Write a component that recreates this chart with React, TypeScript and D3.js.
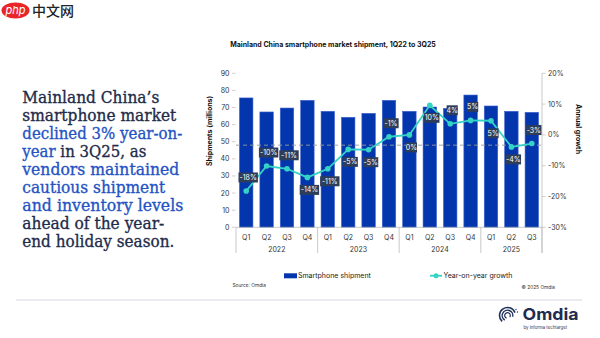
import React from "react";
import * as d3 from "d3";

const quarters = ["Q1","Q2","Q3","Q4","Q1","Q2","Q3","Q4","Q1","Q2","Q3","Q4","Q1","Q2","Q3"];
const years = ["2022","2023","2024","2025"];
const yearCounts = [4,4,4,3];
const shipments = [75.6,67.4,69.7,74.2,67.8,64.3,66.6,74.2,67.8,70.3,69.5,77.3,70.9,67.8,67.2];
const growth = [-18.2,-10.1,-11.0,-13.8,-11.0,-4.7,-4.8,-0.6,0.0,9.6,3.6,4.7,4.6,-3.9,-2.8];
const growthLabels = ["-18%","-10%","-11%","-14%","-11%","-5%","-5%","-1%","0%","10%","4%","5%","5%","-4%","-3%"];
const leftTicks = [0,10,20,30,40,50,60,70,80,90];
const rightTicks = [-30,-20,-10,0,10,20];
const refLineValue = 48;

const textLines: { t: string; blue: boolean }[][] = [
  [{ t: "Mainland China\u2019s", blue: false }],
  [{ t: "smartphone market", blue: false }],
  [{ t: "declined 3% year-on-", blue: true }],
  [{ t: "year", blue: true }, { t: " in 3Q25, as", blue: false }],
  [{ t: "vendors maintained", blue: true }],
  [{ t: "cautious shipment", blue: true }],
  [{ t: "and inventory levels", blue: true }],
  [{ t: "ahead of the year-", blue: false }],
  [{ t: "end holiday season.", blue: false }],
];
const lineWidths = [137,154,160,124,157,143,161,142,152];

// label placement: true = above point
const labelAbove = [true,true,true,false,false,false,false,true,false,false,true,true,false,false,true];

const BLUE = "#0336ad";
const TEAL = "#33d3c5";
const NAVY = "#1e2b4a";
const TBLUE = "#2453c4";
const SANS = "Inter, 'Liberation Sans', Arial, sans-serif";

export default function App() {
  const left = 236, right = 542, top = 73.3, bottom = 227.3;
  const x = d3.scaleBand<number>().domain(d3.range(quarters.length)).range([left, right]).paddingInner(0.34).paddingOuter(0.17);
  const yL = d3.scaleLinear().domain([0, 90]).range([bottom, top]);
  const yR = d3.scaleLinear().domain([-30, 20]).range([bottom, top]);
  const step = x.step();
  const cx = (i: number) => (x(i) as number) + x.bandwidth() / 2;
  const line = d3.line<number>().x((_, i) => cx(i)).y((d) => yR(d));

  const bounds: number[] = [left];
  let acc = 0;
  yearCounts.forEach((c) => { acc += c; bounds.push(left + step * acc); });
  bounds[bounds.length - 1] = right;

  return (
    <svg width={600} height={338} style={{ position: "absolute", left: 0, top: 0, background: "#fff" }}>
      {/* watermark logo */}
      <ellipse cx={15.5} cy={10.5} rx={14} ry={8} fill="#e8262a" />
      <text x={15.5} y={14} fontSize={11} fontStyle="italic" fill="#fff" textAnchor="middle" fontFamily={SANS}>php</text>
      <text x={32} y={15.5} fontSize={14} fill="#222" fontFamily="'Noto Sans CJK SC', sans-serif" fontWeight={500}>中文网</text>

      {/* left text */}
      {textLines.map((ln, i) => (
        <text key={i} x={22.3} y={103.3 + i * 17.9} fontSize={16.5} fontFamily="'DejaVu Serif', serif"
          textLength={lineWidths[i]} lengthAdjust="spacingAndGlyphs" strokeWidth={0.35}>
          {ln.map((s, j) => (
            <tspan key={j} fill={s.blue ? TBLUE : NAVY} stroke={s.blue ? TBLUE : NAVY}>{s.t}</tspan>
          ))}
        </text>
      ))}

      {/* title */}
      <text x={333} y={46.5} fontSize={7} fontWeight={700} textAnchor="middle" fill="#111" fontFamily={SANS}>
        Mainland China smartphone market shipment, 1Q22 to 3Q25
      </text>

      {/* left axis ticks */}
      {leftTicks.map((t) => (
        <g key={t}>
          <line x1={232} x2={235.5} y1={yL(t)} y2={yL(t)} stroke="#bbb" strokeWidth={0.7} />
          <text x={229.5} y={yL(t) + 2.5} fontSize={7} textAnchor="end" fill="#333" fontFamily={SANS}>{t}</text>
        </g>
      ))}
      <text transform={`translate(211.5,131) rotate(-90)`} fontSize={7} fontWeight={700} textAnchor="middle" fill="#111" fontFamily={SANS}>
        Shipments (millions)
      </text>

      {/* right axis */}
      <line x1={right} x2={right} y1={top} y2={253} stroke="#bbb" strokeWidth={0.8} />
      {rightTicks.map((t) => (
        <g key={t}>
          <line x1={right} x2={right + 3.5} y1={yR(t)} y2={yR(t)} stroke="#bbb" strokeWidth={0.7} />
          <text x={548} y={yR(t) + 2.5} fontSize={7} fill="#333" fontFamily={SANS}>{t}%</text>
        </g>
      ))}
      <text transform={`translate(576,129) rotate(90)`} fontSize={7} fontWeight={700} textAnchor="middle" fill="#111" fontFamily={SANS}>
        Annual growth
      </text>

      {/* bars */}
      {shipments.map((v, i) => (
        <rect key={i} x={x(i)} y={yL(v)} width={x.bandwidth()} height={bottom - yL(v)} fill={BLUE} stroke="#3f63cf" strokeWidth={0.6} />
      ))}

      {/* dashed reference */}
      <line x1={left} x2={right} y1={yL(refLineValue)} y2={yL(refLineValue)} stroke="#9a9a9a" strokeWidth={0.9} strokeDasharray="4,3" />

      {/* x axis */}
      <line x1={left} x2={right} y1={bottom} y2={bottom} stroke="#bbb" strokeWidth={0.8} />
      {bounds.map((b, i) => (
        <line key={i} x1={b} x2={b} y1={bottom} y2={253} stroke="#bbb" strokeWidth={0.8} />
      ))}
      {quarters.map((q, i) => (
        <text key={i} x={cx(i)} y={240} fontSize={7} textAnchor="middle" fill="#333" fontFamily={SANS}>{q}</text>
      ))}
      {years.map((yv, i) => (
        <text key={yv} x={(bounds[i] + bounds[i + 1]) / 2} y={251.5} fontSize={7} textAnchor="middle" fill="#333" fontFamily={SANS}>{yv}</text>
      ))}

      {/* growth line */}
      <path d={line(growth) || ""} fill="none" stroke={TEAL} strokeWidth={1.8} />
      {growth.map((g, i) => (
        <circle key={i} cx={cx(i)} cy={yR(g)} r={2.8} fill={TEAL} />
      ))}

      {/* data labels */}
      {growth.map((g, i) => {
        const lx = cx(i) + 2;
        const ly = yR(g) + (labelAbove[i] ? -13.5 : 12.5);
        const w = growthLabels[i].length * 4.1 + 3;
        return (
          <g key={i}>
            <rect x={lx - w / 2} y={ly - 5} width={w} height={10} fill="#2e3d5a" />
            <text x={lx} y={ly + 2.5} fontSize={7} textAnchor="middle" fill="#fff" fontFamily={SANS}>{growthLabels[i]}</text>
          </g>
        );
      })}

      {/* legend */}
      <rect x={284} y={273.3} width={13} height={5} fill={BLUE} />
      <text x={298} y={278.3} fontSize={7} fill="#222" fontFamily={SANS}>Smartphone shipment</text>
      <line x1={430} x2={442} y1={275.7} y2={275.7} stroke={TEAL} strokeWidth={1.8} />
      <circle cx={436} cy={275.7} r={2.5} fill={TEAL} />
      <text x={443.5} y={278.3} fontSize={7} fill="#222" fontFamily={SANS}>Year-on-year growth</text>

      {/* source */}
      <text x={232.5} y={286.5} fontSize={4.8} fill="#333" fontFamily={SANS}>Source: Omdia</text>
      <text x={521.5} y={289.3} fontSize={4.8} fill="#333" fontFamily={SANS}>© 2025 Omdia</text>

      {/* separator */}
      <line x1={16} x2={582} y1={300} y2={300} stroke="#cfd3da" strokeWidth={0.9} />

      {/* Omdia logo */}
      <g fill="none" stroke="#22325a" strokeLinecap="round">
        <path d={d3.arc()({ innerRadius: 8, outerRadius: 8, startAngle: -2.4, endAngle: 1.2 }) || ""} transform="translate(507.5,315.5)" strokeWidth={1.6} />
        <path d={d3.arc()({ innerRadius: 5.3, outerRadius: 5.3, startAngle: -2.6, endAngle: 1.8 }) || ""} transform="translate(507.5,315.5)" strokeWidth={1.4} />
        <path d={d3.arc()({ innerRadius: 2.8, outerRadius: 2.8, startAngle: -2.8, endAngle: 2.2 }) || ""} transform="translate(507.5,315.5)" strokeWidth={1.2} />
      </g>
      <circle cx={516} cy={309.5} r={0.7} fill="#22325a" />
      <circle cx={517.5} cy={312} r={0.7} fill="#22325a" />
      <text x={522.5} y={320.2} fontSize={16} fontWeight={700} fill="#1f2c4e" fontFamily={SANS} textLength={56} lengthAdjust="spacingAndGlyphs">Omdia</text>
      <text x={523.5} y={329} fontSize={4.3} fill="#1f2c4e" fontFamily={SANS}>by informa techtarget</text>
    </svg>
  );
}
